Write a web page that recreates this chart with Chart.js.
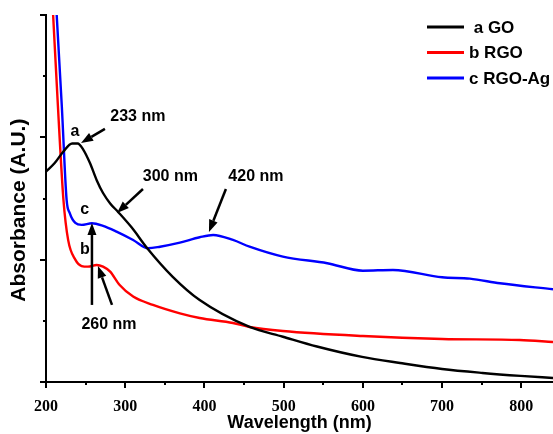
<!DOCTYPE html>
<html>
<head>
<meta charset="utf-8">
<script src="https://cdn.jsdelivr.net/npm/chart.js@4.4.0/dist/chart.umd.min.js"></script>
<style>
  body { margin: 0; background: #fff; }
  #wrap { width: 553px; height: 434px; }
</style>
</head>
<body>
<div id="wrap"><canvas id="uvChart" width="553" height="434"></canvas></div>
<script>
// series (wavelength in nm, absorbance in A.U.)
const goWl = [200, 211, 221.5, 233, 240, 247, 255.5, 264, 272, 281, 291, 308.5, 327, 360, 394, 457, 499, 542, 599, 647, 700, 751, 799, 840];
const goAbs = [1.72, 1.79, 1.88, 1.95, 1.95, 1.90, 1.79, 1.65, 1.545, 1.46, 1.39, 1.26, 1.10, 0.86, 0.67, 0.45, 0.37, 0.29, 0.205, 0.155, 0.106, 0.074, 0.05, 0.033];

const rgoWl = [205, 209, 215, 222, 228, 237, 245, 253, 264, 272, 281, 293, 310, 335, 369, 394, 436, 457, 499, 600, 700, 798, 840];
const rgoAbs = [3.5, 3.0, 2.26, 1.49, 1.16, 1.00, 0.948, 0.943, 0.957, 0.943, 0.902, 0.793, 0.698, 0.63, 0.561, 0.523, 0.482, 0.45, 0.417, 0.376, 0.352, 0.343, 0.327];

const agWl = [208, 213.5, 220, 226, 230, 237, 245, 258, 272, 289, 310, 329, 344, 369, 394, 411, 436, 457, 499, 555, 600, 638, 700, 735, 773, 840];
const agAbs = [3.7, 3.0, 2.25, 1.49, 1.38, 1.30, 1.284, 1.298, 1.276, 1.229, 1.161, 1.093, 1.106, 1.139, 1.183, 1.202, 1.161, 1.106, 1.025, 0.971, 0.91, 0.916, 0.856, 0.845, 0.807, 0.758];

const xTicks = [200, 300, 400, 500, 600, 700, 800];
const seriesNames = [' a GO', 'b RGO', 'c RGO-Ag'];
const seriesColors = ['#000000', '#ff0000', '#0000ff'];

// peak labels and arrows, in data units
const labels = [
    { text: 'a', x: 236.6, y: 2.05 },
    { text: '233 nm', x: 316, y: 2.167 },
    { text: '300 nm', x: 357, y: 1.676 },
    { text: '420 nm', x: 465, y: 1.676 },
    { text: 'c', x: 249, y: 1.406 },
    { text: 'b', x: 249, y: 1.079 },
    { text: '260 nm', x: 279.5, y: 0.466 }
];
const arrows = [
    { from: [274.4, 2.069], to: [244.2, 1.954] },
    { from: [322.4, 1.578], to: [289.6, 1.382] },
    { from: [427.1, 1.578], to: [405.7, 1.227] },
    { from: [258, 0.63], to: [258, 1.30] },
    { from: [283.3, 0.63], to: [265.6, 0.948] }
];

function toPoints(xs, ys) {
    return xs.map((x, i) => ({ x: x, y: ys[i] }));
}

const extras = {
    id: 'extras',
    afterDraw(chart) {
        const ctx = chart.ctx;
        const xs = chart.scales.x;
        const ys = chart.scales.y;
        const area = chart.chartArea;
        ctx.save();
        ctx.strokeStyle = '#000';
        ctx.lineWidth = 2;

        // outward ticks, major and minor
        for (let v = 200; v <= 840; v += 50) {
            const px = Math.round(xs.getPixelForValue(v));
            const len = v % 100 === 0 ? 6 : 3;
            ctx.beginPath();
            ctx.moveTo(px, area.bottom);
            ctx.lineTo(px, area.bottom + len);
            ctx.stroke();
        }
        for (let v = 0; v <= 3; v += 0.5) {
            const py = Math.round(ys.getPixelForValue(v));
            const len = v % 1 === 0 ? 6 : 3;
            ctx.beginPath();
            ctx.moveTo(area.left, py);
            ctx.lineTo(area.left - len, py);
            ctx.stroke();
        }

        // legend
        ctx.font = 'bold 17px "Liberation Sans", Arial, sans-serif';
        ctx.textBaseline = 'middle';
        ctx.textAlign = 'left';
        ctx.lineWidth = 3;
        chart.data.datasets.forEach((ds, i) => {
            const y = 27 + i * 25.5;
            ctx.strokeStyle = ds.borderColor;
            ctx.beginPath();
            ctx.moveTo(427, y);
            ctx.lineTo(464, y);
            ctx.stroke();
            ctx.fillStyle = '#000';
            ctx.fillText(ds.label, 469, y + 1);
        });

        // annotations
        ctx.fillStyle = '#000';
        ctx.font = 'bold 16px "Liberation Sans", Arial, sans-serif';
        ctx.textAlign = 'center';
        labels.forEach(l => {
            ctx.fillText(l.text, xs.getPixelForValue(l.x), ys.getPixelForValue(l.y));
        });
        ctx.strokeStyle = '#000';
        ctx.lineWidth = 2.5;
        arrows.forEach(a => {
            const x1 = xs.getPixelForValue(a.from[0]), y1 = ys.getPixelForValue(a.from[1]);
            const x2 = xs.getPixelForValue(a.to[0]), y2 = ys.getPixelForValue(a.to[1]);
            const ang = Math.atan2(y2 - y1, x2 - x1);
            const head = 12, half = 4.5;
            const bx = x2 - head * Math.cos(ang), by = y2 - head * Math.sin(ang);
            ctx.beginPath();
            ctx.moveTo(x1, y1);
            ctx.lineTo(bx, by);
            ctx.stroke();
            ctx.beginPath();
            ctx.moveTo(x2, y2);
            ctx.lineTo(bx + half * Math.sin(ang), by - half * Math.cos(ang));
            ctx.lineTo(bx - half * Math.sin(ang), by + half * Math.cos(ang));
            ctx.closePath();
            ctx.fill();
        });
        ctx.restore();
    }
};

const ctx = document.getElementById('uvChart').getContext('2d');
new Chart(ctx, {
    type: 'line',
    data: {
        datasets: [
            { label: seriesNames[0], data: toPoints(goWl, goAbs), borderColor: seriesColors[0] },
            { label: seriesNames[1], data: toPoints(rgoWl, rgoAbs), borderColor: seriesColors[1] },
            { label: seriesNames[2], data: toPoints(agWl, agAbs), borderColor: seriesColors[2] }
        ]
    },
    options: {
        responsive: false,
        animation: false,
        devicePixelRatio: 1,
        layout: { padding: { top: 15, right: 0, left: 0, bottom: 0 } },
        elements: {
            point: { radius: 0 },
            line: { borderWidth: 2.4, cubicInterpolationMode: 'monotone' }
        },
        plugins: {
            legend: { display: false },
            tooltip: { enabled: false }
        },
        scales: {
            x: {
                type: 'linear',
                min: 200,
                max: 840,
                grid: { display: false },
                border: { display: true, color: '#000', width: 2 },
                afterBuildTicks: s => { s.ticks = xTicks.map(v => ({ value: v })); },
                ticks: {
                    padding: 7,
                    autoSkip: false,
                    maxRotation: 0,
                    color: '#000',
                    font: { family: '"Liberation Serif", "Times New Roman", serif', weight: 'bold', size: 16 }
                },
                title: {
                    display: true,
                    text: 'Wavelength (nm)',
                    color: '#000',
                    font: { family: '"Liberation Sans", Arial, sans-serif', weight: 'bold', size: 18 },
                    padding: { top: 0, bottom: 0 }
                },
                afterFit: s => { s.height = 52; }
            },
            y: {
                min: 0,
                max: 3,
                grid: { display: false },
                border: { display: true, color: '#000', width: 2 },
                ticks: { display: false },
                title: {
                    display: true,
                    text: 'Absorbance (A.U.)    ',
                    color: '#000',
                    font: { family: '"Liberation Sans", Arial, sans-serif', weight: 'bold', size: 21 },
                    padding: { top: 7, bottom: 0 }
                },
                afterFit: s => { s.width = 46; }
            }
        }
    },
    plugins: [extras]
});
</script>
</body>
</html>
